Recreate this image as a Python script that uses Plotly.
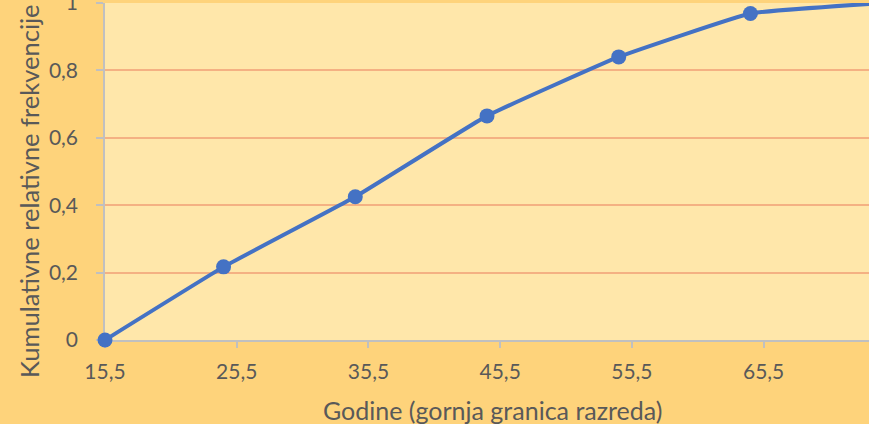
import plotly.graph_objects as go

# Data
x_upper = [15.5, 24.5, 34.5, 44.5, 54.5, 64.5, 74.5]
cum_rel_freq = [0.0, 0.217, 0.425, 0.665, 0.840, 0.969, 1.0]
x_tickvals = [15.5, 25.5, 35.5, 45.5, 55.5, 65.5]
x_ticktext = ["15,5", "25,5", "35,5", "45,5", "55,5", "65,5"]
y_tickvals = [0, 0.2, 0.4, 0.6, 0.8, 1.0]
y_ticktext = ["0", "0,2", "0,4", "0,6", "0,8", "1"]

x_title = "Godine (gornja granica razreda)"
y_title = "Kumulativne relativne frekvencije"

font_family = "Lato, 'Open Sans', sans-serif"
text_color = "#595959"

fig = go.Figure()
fig.add_trace(go.Scatter(
    x=x_upper, y=cum_rel_freq,
    mode="lines+markers",
    line=dict(color="#4472C4", width=4, shape="spline", smoothing=0.3),
    marker=dict(color="#4472C4", size=15),
    cliponaxis=False,
    showlegend=False,
))

fig.update_layout(
    width=869, height=424,
    margin=dict(l=105, r=0, t=3, b=84, autoexpand=False),
    paper_bgcolor="#FED37B",
    plot_bgcolor="#FFE7AA",
    font=dict(family=font_family, color=text_color, size=21),
    xaxis=dict(
        range=[15.5, 73.5],
        tickvals=x_tickvals, ticktext=x_ticktext,
        showgrid=False, zeroline=False,
        showline=True, linecolor="#C0C0C0", linewidth=1.5,
        ticks="outside", ticklen=6, tickcolor="#C0C0C0", tickwidth=1.5,
        ticklabelstandoff=6,
        layer="below traces",
        automargin=False,
        tickfont=dict(size=21, color=text_color),
    ),
    yaxis=dict(
        range=[0, 1.0],
        tickvals=y_tickvals, ticktext=y_ticktext,
        showgrid=True, gridcolor="#F4B183", gridwidth=1.5,
        zeroline=False,
        showline=True, linecolor="#C0C0C0", linewidth=1.5,
        ticks="outside", ticklen=7, tickcolor="#C0C0C0", tickwidth=1.5,
        ticklabelstandoff=14,
        ticklabeloverflow="allow",
        layer="below traces",
        automargin=False,
        tickfont=dict(size=21, color=text_color),
    ),
    annotations=[
        dict(text=x_title, xref="paper", yref="paper", x=(492 - 105) / 764, y=-70 / 337,
             xanchor="center", yanchor="middle", showarrow=False,
             font=dict(size=25, color=text_color, family=font_family)),
        dict(text=y_title, xref="paper", yref="paper", x=-76 / 764, y=(340 - 191) / 337,
             xanchor="center", yanchor="middle", showarrow=False, textangle=-90,
             font=dict(size=25.5, color=text_color, family=font_family)),
    ],
)

fig.write_html(
    "out.html",
    config={"displayModeBar": False},
    post_script="document.body.style.margin='0';document.body.style.overflow='hidden';",
)
